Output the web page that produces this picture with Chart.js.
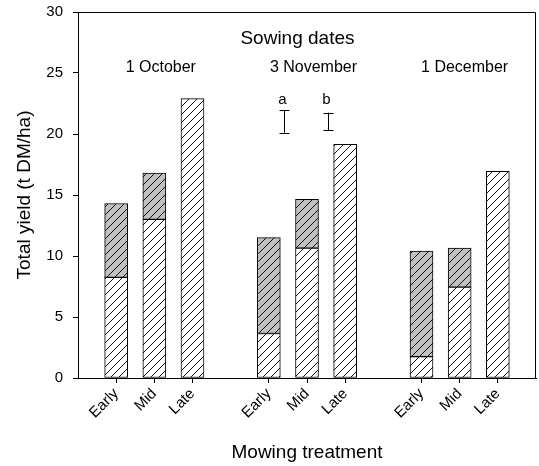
<!DOCTYPE html>
<html>
<head>
<meta charset="utf-8">
<script src="https://cdn.jsdelivr.net/npm/chart.js@4"></script>
<style>
  html, body { margin: 0; padding: 0; background: #fff; }
  #wrap { width: 539px; height: 466px; }
</style>
</head>
<body>
<div id="wrap"><canvas id="yield" width="539" height="466"></canvas></div>
<script>
// blank slots separate the three sowing dates
var categories = ['', 'Early', 'Mid', 'Late', '', 'Early', 'Mid', 'Late', '', 'Early', 'Mid', 'Late', ''];
var firstCut = [null, 8.25, 13.0, 22.9, null, 3.65, 10.65, 19.15, null, 1.75, 7.45, 16.95, null];
var regrowth = [null, 6.05, 3.8, null, null, 7.85, 4.0, null, null, 8.65, 3.2, null, null];
var yTicks = [0, 5, 10, 15, 20, 25, 30];

var sowingDates = ['1 October', '3 November', '1 December'];
var sowingX = [2.17, 6.17, 10.13];

var lsdLabels = ['a', 'b'];
var lsdX = [5.4, 6.54];
var lsdLow = [20.1, 20.3];
var lsdHigh = [21.95, 21.75];

var FONT = '"Liberation Sans", Arial, sans-serif';

function hatch(bg) {
  var c = document.createElement('canvas');
  c.width = 8; c.height = 8;
  var g = c.getContext('2d');
  g.fillStyle = bg;
  g.fillRect(0, 0, 8, 8);
  g.strokeStyle = '#111';
  g.lineWidth = 1;
  g.beginPath();
  g.moveTo(-1, 9); g.lineTo(9, -1);
  g.moveTo(-1, 1); g.lineTo(1, -1);
  g.moveTo(7, 9); g.lineTo(9, 7);
  g.stroke();
  return g.createPattern(c, 'repeat');
}

// box round the plot, sowing date labels and LSD bars
var annotate = {
  id: 'annotate',
  afterDraw: function(chart) {
    var ctx = chart.ctx, a = chart.chartArea;
    var x = chart.scales.x, y = chart.scales.y;
    ctx.save();
    ctx.strokeStyle = '#000';
    ctx.lineWidth = 1;
    ctx.beginPath();
    ctx.moveTo(a.left, a.top + 0.5);
    ctx.lineTo(a.right - 0.5, a.top + 0.5);
    ctx.lineTo(a.right - 0.5, a.bottom);
    ctx.stroke();

    ctx.fillStyle = '#000';
    ctx.textAlign = 'center';
    ctx.textBaseline = 'alphabetic';
    ctx.font = '19px ' + FONT;
    ctx.fillText('Sowing dates', x.getPixelForValue(5.75), y.getPixelForValue(27.38));
    ctx.font = '16px ' + FONT;
    sowingDates.forEach(function(d, i) {
      ctx.fillText(d, x.getPixelForValue(sowingX[i]), y.getPixelForValue(25.1));
    });

    ctx.font = '15px ' + FONT;
    lsdLabels.forEach(function(l, i) {
      var px = Math.round(x.getPixelForValue(lsdX[i])) + 0.5;
      var top = y.getPixelForValue(lsdHigh[i]);
      var bot = y.getPixelForValue(lsdLow[i]);
      ctx.fillText(l, px - 2, y.getPixelForValue(22.45));
      ctx.beginPath();
      ctx.moveTo(px, top); ctx.lineTo(px, bot);
      ctx.moveTo(px - 5, Math.round(top) + 0.5); ctx.lineTo(px + 5, Math.round(top) + 0.5);
      ctx.moveTo(px - 5, Math.round(bot) + 0.5); ctx.lineTo(px + 5, Math.round(bot) + 0.5);
      ctx.stroke();
    });
    ctx.restore();
  }
};

var yieldChart = new Chart(document.getElementById('yield'), {
  type: 'bar',
  data: {
    labels: categories,
    datasets: [{
      label: 'First cut',
      data: firstCut,
      backgroundColor: hatch('#ffffff'),
      borderColor: '#000',
      borderWidth: 1,
      borderSkipped: false,
      barThickness: 23
    }, {
      label: 'Regrowth',
      data: regrowth,
      backgroundColor: hatch('#c0c0c0'),
      borderColor: '#000',
      borderWidth: 1,
      borderSkipped: false,
      barThickness: 23
    }]
  },
  options: {
    responsive: false,
    animation: false,
    layout: { padding: { left: 0, right: 3, top: 12, bottom: 0 } },
    plugins: {
      legend: { display: false },
      tooltip: { enabled: false }
    },
    scales: {
      x: {
        stacked: true,
        offset: false,
        afterFit: function(s) {
          s.height = 88;
          s.paddingLeft = 0; s.paddingRight = 0;
        },
        grid: {
          offset: false,
          drawOnChartArea: false,
          tickLength: 5,
          color: function(c) { return categories[c.index] ? '#000' : 'rgba(0,0,0,0)'; }
        },
        border: { color: '#000', width: 1 },
        ticks: {
          autoSkip: false,
          minRotation: 45,
          maxRotation: 45,
          padding: 2,
          color: '#000',
          font: { family: FONT, size: 15 }
        },
        title: {
          display: true,
          text: 'Mowing treatment',
          color: '#000',
          padding: { top: 0, bottom: 2 },
          font: { family: FONT, size: 19 }
        }
      },
      y: {
        stacked: true,
        min: 0,
        max: 30,
        afterFit: function(s) {
          s.width = 78;
          s.paddingTop = 0; s.paddingBottom = 0;
        },
        afterBuildTicks: function(s) { s.ticks = yTicks.map(function(v) { return { value: v }; }); },
        grid: { drawOnChartArea: false, tickLength: 5, color: '#000' },
        border: { color: '#000', width: 1 },
        ticks: {
          padding: 10,
          color: '#000',
          font: { family: FONT, size: 15 }
        },
        title: {
          display: true,
          text: 'Total yield (t DM/ha)',
          color: '#000',
          padding: { top: 13, bottom: 0 },
          font: { family: FONT, size: 19 }
        }
      }
    }
  },
  plugins: [annotate]
});
</script>
</body>
</html>
